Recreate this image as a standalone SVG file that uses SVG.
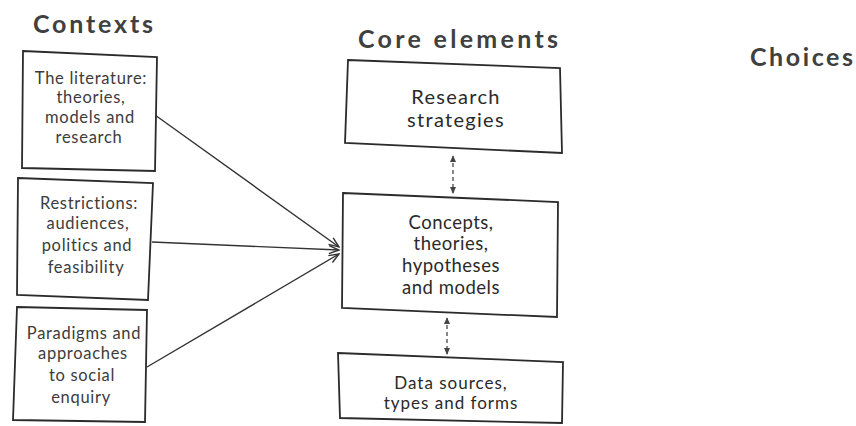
<svg xmlns="http://www.w3.org/2000/svg" width="856" height="426" viewBox="0 0 856 426">
  <style>
    .title { font-family: Lato, "Open Sans", "Liberation Sans", sans-serif; font-weight: 700; font-size: 25px; fill: #404040; }
    .ctx { font-family: Lato, "Open Sans", "Liberation Sans", sans-serif; font-size: 16.5px; letter-spacing: 0.7px; fill: #3c3c3c; text-anchor: middle; }
    .core { font-family: Lato, "Open Sans", "Liberation Sans", sans-serif; font-size: 18.5px; letter-spacing: 0.5px; fill: #2a2a2a; text-anchor: middle; }
    .core.big { font-size: 20px; letter-spacing: 1.3px; }
    .core.small { font-size: 17px; letter-spacing: 1px; }
    .box { fill: #ffffff; stroke: #2b2b2b; stroke-width: 1.8; stroke-linejoin: miter; }
    .link { fill: none; stroke: #333333; stroke-width: 1.4; }
    .dash { fill: none; stroke: #555555; stroke-width: 1.4; stroke-dasharray: 4 3; }
  </style>
  <defs>
    <marker id="open" viewBox="0 0 12 10" refX="11" refY="5" markerWidth="12" markerHeight="10" markerUnits="userSpaceOnUse" orient="auto">
      <path d="M1,1 L11,5 L1,9" fill="none" stroke="#333333" stroke-width="1.4"/>
    </marker>
    <marker id="tri" viewBox="0 0 8 8" refX="7" refY="4" markerWidth="7" markerHeight="7" markerUnits="userSpaceOnUse" orient="auto-start-reverse">
      <path d="M0,0.5 L8,4 L0,7.5 Z" fill="#444444"/>
    </marker>
  </defs>

  <rect width="856" height="426" fill="#ffffff"/>

  <!-- column headings -->
  <text class="title" x="33" y="33" textLength="120" lengthAdjust="spacing">Contexts</text>
  <text class="title" x="358" y="48" textLength="200" lengthAdjust="spacing">Core elements</text>
  <text class="title" x="750" y="66" textLength="103" lengthAdjust="spacing">Choices</text>

  <!-- connectors -->
  <g id="connectors">
    <line class="link" x1="155" y1="115" x2="339" y2="247" marker-end="url(#open)"/>
    <line class="link" x1="152" y1="242" x2="339" y2="250" marker-end="url(#open)"/>
    <line class="link" x1="147" y1="367" x2="339" y2="254" marker-end="url(#open)"/>
    <line class="dash" x1="453" y1="156" x2="453" y2="193" marker-start="url(#tri)" marker-end="url(#tri)"/>
    <line class="dash" x1="447" y1="318" x2="447" y2="354" marker-start="url(#tri)" marker-end="url(#tri)"/>
  </g>

  <!-- context boxes -->
  <g id="ctx-literature">
    <polygon class="box" points="23,51 157,57 155,171 22,168"/>
    <text class="ctx" x="91" y="83.5">The literature:</text>
    <text class="ctx" x="91" y="102.5">theories,</text>
    <text class="ctx" x="90" y="122.5">models and</text>
    <text class="ctx" x="89" y="142.5">research</text>
  </g>
  <g id="ctx-restrictions">
    <polygon class="box" points="18,178 153,183 148,300 17,295"/>
    <text class="ctx" x="89" y="208.5">Restrictions:</text>
    <text class="ctx" x="88" y="228.5">audiences,</text>
    <text class="ctx" x="87" y="250.5">politics and</text>
    <text class="ctx" x="86" y="272.5">feasibility</text>
  </g>
  <g id="ctx-paradigms">
    <polygon class="box" points="17,307 147,310 145,422 13,420"/>
    <text class="ctx" x="84" y="338.5">Paradigms and</text>
    <text class="ctx" x="83" y="358.5">approaches</text>
    <text class="ctx" x="82" y="380.5">to social</text>
    <text class="ctx" x="81" y="402.5">enquiry</text>
  </g>

  <!-- core boxes -->
  <g id="core-strategies">
    <polygon class="box" points="348,60 560,68 562,153 345,143"/>
    <text class="core big" x="456" y="104">Research</text>
    <text class="core big" x="456" y="127">strategies</text>
  </g>
  <g id="core-concepts">
    <polygon class="box" points="343,193 558,202 557,317 342,308"/>
    <text class="core" x="451" y="228.5">Concepts,</text>
    <text class="core" x="451" y="249.5">theories,</text>
    <text class="core" x="451" y="271.5">hypotheses</text>
    <text class="core" x="451" y="293.5">and models</text>
  </g>
  <g id="core-data">
    <polygon class="box" points="338,353 563,362 562,423 340,418"/>
    <text class="core small" x="451" y="388.5">Data sources,</text>
    <text class="core small" x="451" y="409">types and forms</text>
  </g>
</svg>
